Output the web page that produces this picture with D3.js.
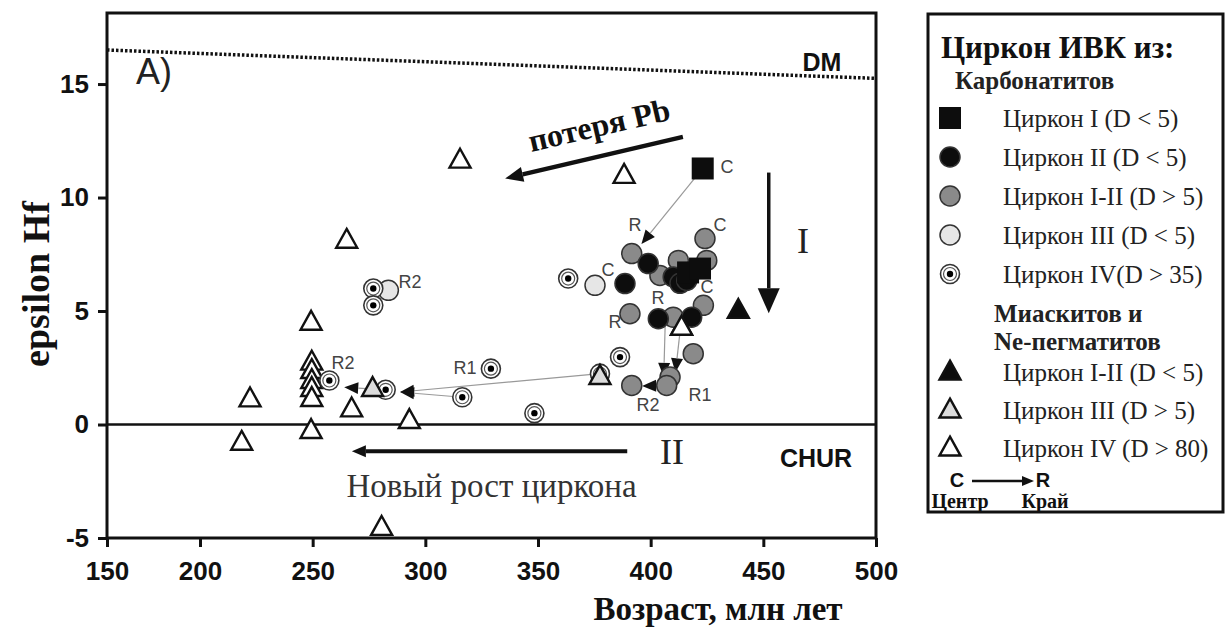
<!DOCTYPE html>
<html>
<head>
<meta charset="utf-8">
<script src="https://cdn.jsdelivr.net/npm/d3@7"></script>
<style>
  body { margin: 0; background: #fff; }
</style>
</head>
<body>
<div id="chart"></div>
<script>
// Size of the page
var width = 1227;
var height = 639;

// Tick values
var xTicks = [150, 200, 250, 300, 350, 400, 450, 500];
var yTicks = [-5, 0, 5, 10, 15];

// Carbonatite zircons: [age Ma, epsilon Hf]
var zirconI = [[423.1, 11.28], [416.6, 6.70], [421.9, 6.87]];
var zirconII = [[398.9, 7.09], [410.0, 6.50], [413.0, 6.22], [416.0, 6.35], [388.6, 6.21],
  [403.4, 4.66], [418.2, 4.73]];
var zirconI_II = [[391.6, 7.53], [404.1, 6.57], [412.3, 7.23], [424.9, 7.23], [424.1, 8.19],
  [390.8, 4.88], [410.0, 4.73], [423.4, 5.25], [418.9, 3.12], [408.6, 2.09], [407.1, 1.72],
  [391.6, 1.72]];
var zirconIII = [[375.3, 6.13], [283.6, 5.91]];
var zirconIV = [[363.4, 6.43], [276.9, 5.99], [276.9, 5.25], [257.4, 1.94], [282.4, 1.53],
  [329.1, 2.46], [316.4, 1.20], [348.4, 0.50], [377.5, 2.24], [386.4, 2.97]];

// Miaskite and Ne-pegmatite zircons
var miasI_II = [[438.9, 5.03]];
var miasIII = [[276.6, 1.59], [377.5, 2.12]];
var miasIV = [[315.4, 11.65], [388.2, 10.98], [265.1, 8.12], [249.3, 4.51], [249.6, 2.75],
  [249.6, 2.38], [249.6, 1.94], [249.6, 1.59], [249.6, 1.15], [222.2, 1.13], [267.3, 0.69],
  [292.9, 0.18], [249.3, -0.26], [218.5, -0.78], [280.6, -4.53], [413.7, 4.29]];

// Centre -> rim links: [age1, eps1, age2, eps2]
var links = [[423.1, 11.28, 395.9, 7.95], [406.5, 4.6, 405.8, 2.1], [413.5, 4.5, 411.0, 2.3],
  [407.1, 1.72, 396.2, 1.70], [377.5, 2.24, 288.8, 1.43], [316.4, 1.20, 288.8, 1.43],
  [282.4, 1.53, 264.0, 1.64]];

// C / R labels: [age, eps, text]
var pointLabels = [[433.9, 11.34, "C"], [393.1, 8.78, "R"], [430.8, 8.78, "C"], [381.1, 6.79, "C"],
  [403.3, 5.56, "R"], [384.2, 4.50, "R"], [425.0, 6.04, "C"], [398.8, 0.88, "R2"],
  [421.9, 1.28, "R1"], [293.2, 6.26, "R2"], [263.5, 2.69, "R2"], [317.6, 2.51, "R1"]];

// Reference lines
var dmLine = [[150, 16.5], [500, 15.25]];
var churLevel = 0;

// Legend
var legendCarb = [["square", "Циркон I (D < 5)"], ["black", "Циркон II (D < 5)"],
  ["gray", "Циркон I-II (D > 5)"], ["light", "Циркон III (D < 5)"], ["dot", "Циркон IV(D > 35)"]];
var legendMias = [["triBlack", "Циркон I-II (D < 5)"], ["triGray", "Циркон III (D > 5)"],
  ["triWhite", "Циркон IV (D > 80)"]];

var SERIF = "'Liberation Serif', 'Times New Roman', serif";
var SANS = "'Liberation Sans', Arial, sans-serif";

var svg = d3.select("#chart").append("svg")
  .attr("width", width)
  .attr("height", height)
  .style("background", "#fff");

// scales (the original x axis is squeezed between 150 and 200)
var x = d3.scaleLinear().domain([150, 200, 500]).range([107, 200, 876]);
var y = d3.scaleLinear().domain([-5, 18.13]).range([538, 13]);

function arrowHead(g, x1, y1, x2, y2, len, w, fill) {
  var a = Math.atan2(y2 - y1, x2 - x1);
  var bx = x2 - len * Math.cos(a), by = y2 - len * Math.sin(a);
  var px = -Math.sin(a) * w / 2, py = Math.cos(a) * w / 2;
  g.append("path")
    .attr("d", "M" + x2 + "," + y2 + "L" + (bx + px) + "," + (by + py) + "L" + (bx - px) + "," + (by - py) + "Z")
    .attr("fill", fill);
  return [bx, by];
}

function arrow(g, x1, y1, x2, y2, len, w, sw, color) {
  var base = arrowHead(g, x1, y1, x2, y2, len, w, color);
  g.append("line")
    .attr("x1", x1).attr("y1", y1).attr("x2", base[0]).attr("y2", base[1])
    .attr("stroke", color).attr("stroke-width", sw);
}

function triPath(cx, cy, s) {
  var h = s * 0.9;
  return "M" + cx + "," + (cy - h * 0.6) + "L" + (cx + s / 2) + "," + (cy + h * 0.4) + "L" + (cx - s / 2) + "," + (cy + h * 0.4) + "Z";
}

// symbol drawers
function drawSymbol(g, type, cx, cy) {
  if (type === "square") {
    g.append("rect").attr("x", cx - 11).attr("y", cy - 11).attr("width", 22).attr("height", 22)
      .attr("fill", "#0d0d0d");
  } else if (type === "black" || type === "gray" || type === "light") {
    var fill = type === "black" ? "#0d0d0d" : type === "gray" ? "#8a8a8a" : "#e6e6e6";
    g.append("circle").attr("cx", cx).attr("cy", cy).attr("r", 10)
      .attr("fill", fill).attr("stroke", "#333").attr("stroke-width", 1.5);
  } else if (type === "dot") {
    g.append("circle").attr("cx", cx).attr("cy", cy).attr("r", 9.5)
      .attr("fill", "#fff").attr("stroke", "#333").attr("stroke-width", 1.6);
    g.append("circle").attr("cx", cx).attr("cy", cy).attr("r", 6.5)
      .attr("fill", "none").attr("stroke", "#555").attr("stroke-width", 1.2);
    g.append("circle").attr("cx", cx).attr("cy", cy).attr("r", 3.2)
      .attr("fill", "#000");
  } else {
    var f = type === "triBlack" ? "#0d0d0d" : type === "triGray" ? "#dcdcdc" : "#fff";
    g.append("path").attr("d", triPath(cx, cy, 21))
      .attr("fill", f).attr("stroke", "#111").attr("stroke-width", 2.4)
      .attr("stroke-linejoin", "miter");
  }
}

// ---- reference lines ----
svg.append("line")
  .attr("x1", x(dmLine[0][0])).attr("y1", y(dmLine[0][1]))
  .attr("x2", x(dmLine[1][0])).attr("y2", y(dmLine[1][1]))
  .attr("stroke", "#111").attr("stroke-width", 3.5).attr("stroke-dasharray", "2.5,2");

svg.append("line")
  .attr("x1", x(150)).attr("x2", x(500))
  .attr("y1", y(churLevel)).attr("y2", y(churLevel))
  .attr("stroke", "#111").attr("stroke-width", 2.5);

// ---- annotation arrows ----
var ann = svg.append("g");
arrow(ann, x(414.3), y(12.67), x(335.4), y(10.84), 18, 15, 4.5, "#111");   // Pb loss
arrow(ann, x(452.4), y(11.1), x(452.4), y(4.9), 25, 22, 3.5, "#111");      // I
arrow(ann, x(389.6), y(-1.18), x(267.4), y(-1.18), 14, 12, 4, "#111");     // II

ann.append("text")
  .attr("transform", "translate(" + 599 + "," + 125 + ") rotate(-13)")
  .attr("text-anchor", "middle").attr("dominant-baseline", "central")
  .attr("font-family", SERIF).attr("font-weight", "bold").attr("font-size", 32)
  .attr("fill", "#111").text("потеря Pb");

ann.append("text")
  .attr("x", x(467.6)).attr("y", y(8.1))
  .attr("text-anchor", "middle").attr("dominant-baseline", "central")
  .attr("font-family", SERIF).attr("font-size", 36).attr("fill", "#222").text("I");

ann.append("text")
  .attr("x", x(409.5)).attr("y", y(-1.23))
  .attr("text-anchor", "middle").attr("dominant-baseline", "central")
  .attr("font-family", SERIF).attr("font-size", 36).attr("fill", "#222").text("II");

ann.append("text")
  .attr("x", x(329.4)).attr("y", y(-2.69))
  .attr("text-anchor", "middle").attr("dominant-baseline", "central")
  .attr("font-family", SERIF).attr("font-size", 33).attr("fill", "#333").text("Новый рост циркона");

ann.append("text")
  .attr("x", 136).attr("y", 71)
  .attr("dominant-baseline", "central")
  .attr("font-family", SANS).attr("font-size", 36).attr("fill", "#222").text("A)");

ann.append("text")
  .attr("x", 822).attr("y", 62)
  .attr("text-anchor", "middle").attr("dominant-baseline", "central")
  .attr("font-family", SANS).attr("font-weight", "bold").attr("font-size", 25).attr("fill", "#111").text("DM");

ann.append("text")
  .attr("x", 816).attr("y", 458)
  .attr("text-anchor", "middle").attr("dominant-baseline", "central")
  .attr("font-family", SANS).attr("font-weight", "bold").attr("font-size", 25).attr("fill", "#111").text("CHUR");

// ---- centre -> rim links ----
var linkG = svg.append("g");
links.forEach(function(l) {
  var x1 = x(l[0]), y1 = y(l[1]), x2 = x(l[2]), y2 = y(l[3]);
  var base = arrowHead(linkG, x1, y1, x2, y2, 14, 12, "#111");
  linkG.append("line")
    .attr("x1", x1).attr("y1", y1).attr("x2", base[0]).attr("y2", base[1])
    .attr("stroke", "#999").attr("stroke-width", 1.2);
});

// ---- points ----
var pts = svg.append("g");
miasIV.forEach(function(d) { drawSymbol(pts, "triWhite", x(d[0]), y(d[1])); });
zirconI_II.forEach(function(d) { drawSymbol(pts, "gray", x(d[0]), y(d[1])); });
zirconIII.forEach(function(d) { drawSymbol(pts, "light", x(d[0]), y(d[1])); });
zirconII.forEach(function(d) { drawSymbol(pts, "black", x(d[0]), y(d[1])); });
zirconI.forEach(function(d) { drawSymbol(pts, "square", x(d[0]), y(d[1])); });
zirconIV.forEach(function(d) { drawSymbol(pts, "dot", x(d[0]), y(d[1])); });
miasIII.forEach(function(d) { drawSymbol(pts, "triGray", x(d[0]), y(d[1])); });
miasI_II.forEach(function(d) { drawSymbol(pts, "triBlack", x(d[0]), y(d[1])); });
// white triangle on top of the cluster
drawSymbol(pts, "triWhite", x(miasIV[miasIV.length - 1][0]), y(miasIV[miasIV.length - 1][1]));

pts.selectAll("text.pl")
  .data(pointLabels)
  .join("text")
  .attr("class", "pl")
  .attr("x", d => x(d[0]))
  .attr("y", d => y(d[1]))
  .attr("text-anchor", "middle").attr("dominant-baseline", "central")
  .attr("font-family", SANS).attr("font-size", 18).attr("fill", "#444")
  .text(d => d[2]);

// ---- axes and frame ----
var xAxis = svg.append("g")
  .attr("transform", "translate(0," + y(-5) + ")")
  .call(d3.axisBottom(x).tickValues(xTicks).tickSize(9).tickPadding(15).tickFormat(d => String(d)));
var yAxis = svg.append("g")
  .attr("transform", "translate(" + x(150) + ",0)")
  .call(d3.axisLeft(y).tickValues(yTicks).tickSize(9).tickPadding(9).tickFormat(d => String(d)));

[xAxis, yAxis].forEach(function(g) {
  g.select(".domain").remove();
  g.selectAll("line").attr("stroke", "#111").attr("stroke-width", 3);
  g.selectAll("text")
    .attr("font-family", SANS).attr("font-weight", "bold").attr("font-size", 26).attr("fill", "#111");
});

svg.append("rect")
  .attr("x", x(150)).attr("y", y(18.13))
  .attr("width", x(500) - x(150)).attr("height", y(-5) - y(18.13))
  .attr("fill", "none").attr("stroke", "#111").attr("stroke-width", 3);

svg.append("text")
  .attr("transform", "translate(36," + 284 + ") rotate(-90)")
  .attr("text-anchor", "middle").attr("dominant-baseline", "central")
  .attr("font-family", SERIF).attr("font-weight", "bold").attr("font-size", 38).attr("fill", "#111")
  .text("epsilon Hf");

svg.append("text")
  .attr("x", 718).attr("y", 609)
  .attr("text-anchor", "middle").attr("dominant-baseline", "central")
  .attr("font-family", SERIF).attr("font-weight", "bold").attr("font-size", 33).attr("fill", "#111")
  .text("Возраст, млн лет");

// ---- legend ----
var lg = svg.append("g");
lg.append("rect")
  .attr("x", 928).attr("y", 14).attr("width", 295).attr("height", 498)
  .attr("fill", "#fff").attr("stroke", "#111").attr("stroke-width", 3);

lg.append("text").attr("x", 941).attr("y", 47).attr("dominant-baseline", "central")
  .attr("font-family", SERIF).attr("font-weight", "bold").attr("font-size", 31).attr("fill", "#111")
  .text("Циркон ИВК из:");
lg.append("text").attr("x", 955).attr("y", 80).attr("dominant-baseline", "central")
  .attr("font-family", SERIF).attr("font-weight", "bold").attr("font-size", 25).attr("fill", "#222")
  .text("Карбонатитов");

var rowY1 = [118, 157, 196, 235, 274];
legendCarb.forEach(function(d, i) {
  drawSymbol(lg, d[0], 950, rowY1[i]);
  lg.append("text").attr("x", 1003).attr("y", rowY1[i]).attr("dominant-baseline", "central")
    .attr("font-family", SERIF).attr("font-size", 25).attr("fill", "#222").text(d[1]);
});

lg.append("text").attr("x", 994).attr("y", 313).attr("dominant-baseline", "central")
  .attr("font-family", SERIF).attr("font-weight", "bold").attr("font-size", 25).attr("fill", "#222")
  .text("Миаскитов и");
lg.append("text").attr("x", 994).attr("y", 341).attr("dominant-baseline", "central")
  .attr("font-family", SERIF).attr("font-weight", "bold").attr("font-size", 25).attr("fill", "#222")
  .text("Ne-пегматитов");

var rowY2 = [372, 410, 448];
legendMias.forEach(function(d, i) {
  drawSymbol(lg, d[0], 950, rowY2[i]);
  lg.append("text").attr("x", 1003).attr("y", rowY2[i]).attr("dominant-baseline", "central")
    .attr("font-family", SERIF).attr("font-size", 25).attr("fill", "#222").text(d[1]);
});

lg.append("text").attr("x", 957).attr("y", 480).attr("text-anchor", "middle").attr("dominant-baseline", "central")
  .attr("font-family", SANS).attr("font-weight", "bold").attr("font-size", 20).attr("fill", "#111").text("C");
lg.append("text").attr("x", 1043).attr("y", 480).attr("text-anchor", "middle").attr("dominant-baseline", "central")
  .attr("font-family", SANS).attr("font-weight", "bold").attr("font-size", 20).attr("fill", "#111").text("R");
arrow(lg, 972, 481, 1034, 481, 12, 10, 2.5, "#111");
lg.append("text").attr("x", 960).attr("y", 501).attr("text-anchor", "middle").attr("dominant-baseline", "central")
  .attr("font-family", SERIF).attr("font-weight", "bold").attr("font-size", 20).attr("fill", "#111").text("Центр");
lg.append("text").attr("x", 1045).attr("y", 501).attr("text-anchor", "middle").attr("dominant-baseline", "central")
  .attr("font-family", SERIF).attr("font-weight", "bold").attr("font-size", 20).attr("fill", "#111").text("Край");
</script>
</body>
</html>
